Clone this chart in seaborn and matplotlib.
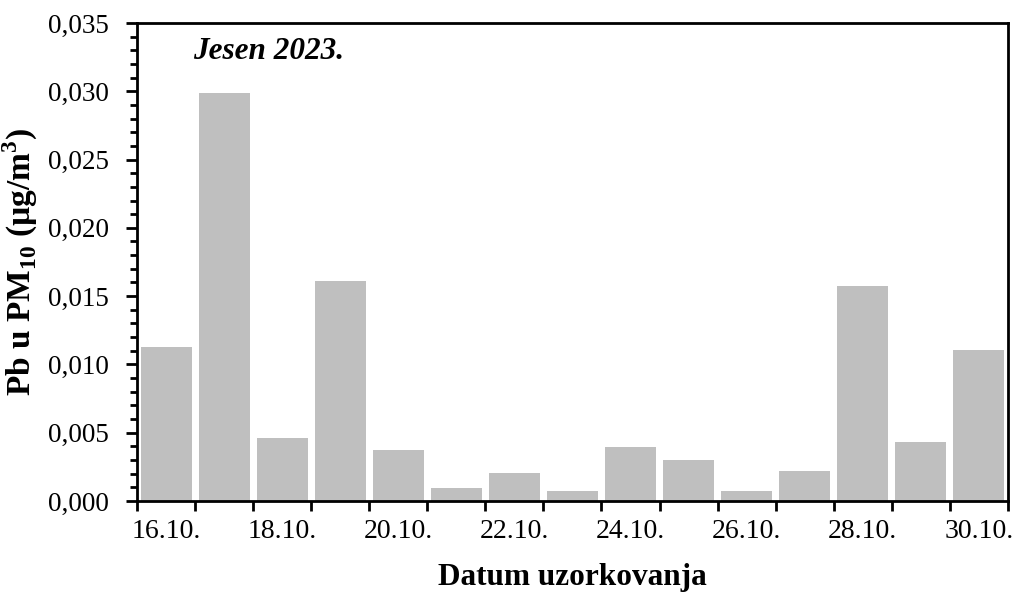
import numpy as np
import pandas as pd
import matplotlib
matplotlib.use("Agg")
import matplotlib.pyplot as plt
import seaborn as sns
from matplotlib.ticker import MultipleLocator

dates = ["16.10.", "17.10.", "18.10.", "19.10.", "20.10.", "21.10.", "22.10.", "23.10.",
         "24.10.", "25.10.", "26.10.", "27.10.", "28.10.", "29.10.", "30.10."]
pb_values = [0.01126, 0.02988, 0.00461, 0.01611, 0.00373, 0.00092, 0.00204, 0.00073,
             0.00394, 0.00298, 0.00073, 0.00223, 0.01574, 0.00431, 0.01106]
y_ticks = [0.000, 0.005, 0.010, 0.015, 0.020, 0.025, 0.030, 0.035]
y_tick_labels = ["0,000", "0,005", "0,010", "0,015", "0,020", "0,025", "0,030", "0,035"]
x_label_dates = ["16.10.", "18.10.", "20.10.", "22.10.", "24.10.", "26.10.", "28.10.", "30.10."]

sns.set_theme(style="ticks")
plt.rcParams['font.family'] = ['Liberation Serif', 'DejaVu Serif']
plt.rcParams['mathtext.fontset'] = 'custom'
plt.rcParams['mathtext.rm'] = 'Liberation Serif'
plt.rcParams['mathtext.bf'] = 'Liberation Serif:bold'
for k in ['text.color', 'axes.labelcolor', 'xtick.color', 'ytick.color', 'axes.edgecolor']:
    plt.rcParams[k] = 'black'

df = pd.DataFrame({"Datum": dates, "Pb": pb_values})

fig = plt.figure(figsize=(10.18, 5.94), dpi=100)
ax = fig.add_axes([0.1346, 0.1566, 0.990 - 0.1346, 0.9613 - 0.1566])

sns.barplot(data=df, x="Datum", y="Pb", color="#bfbfbf", saturation=1,
            width=0.88, ax=ax, edgecolor="#bfbfbf", linewidth=0)

ax.set_xlim(-0.5, len(dates) - 0.5)
ax.set_ylim(0, 0.035)

# major x ticks at category boundaries, labels on every other bar centre
bounds = np.arange(-0.5, len(dates), 1.0)
ax.set_xticks(bounds)
ax.set_xticklabels([""] * len(bounds))
pos = [dates.index(d) for d in x_label_dates]
ax.set_xticks(pos, minor=True)
ax.set_xticklabels(x_label_dates, minor=True, fontsize=20)
ax.tick_params(axis="x", which="major", direction="out", length=7, width=2, color="black")
ax.tick_params(axis="x", which="minor", length=0, pad=13)

ax.set_yticks(y_ticks)
ax.set_yticklabels(y_tick_labels, fontsize=19.5)
ax.yaxis.set_minor_locator(MultipleLocator(0.001))
ax.tick_params(axis="y", which="major", direction="out", length=8, width=2, color="black", pad=12)
ax.tick_params(axis="y", which="minor", direction="out", length=5, width=2, color="black")

for s in ax.spines.values():
    s.set_visible(True)
    s.set_linewidth(2)
    s.set_color("black")

ax.set_xlabel("Datum uzorkovanja", fontsize=22.5, fontweight="bold", labelpad=14)
ax.set_ylabel(r"Pb u PM$_{\mathbf{10}}$ (µg/m$^{\mathbf{3}}$)", fontsize=24, fontweight="bold", labelpad=6)

ax.text(0.064, 0.94, "Jesen 2023.", transform=ax.transAxes, fontsize=22.5,
        fontweight="bold", fontstyle="italic", ha="left", va="center")

fig.savefig("out.png", dpi=100)
